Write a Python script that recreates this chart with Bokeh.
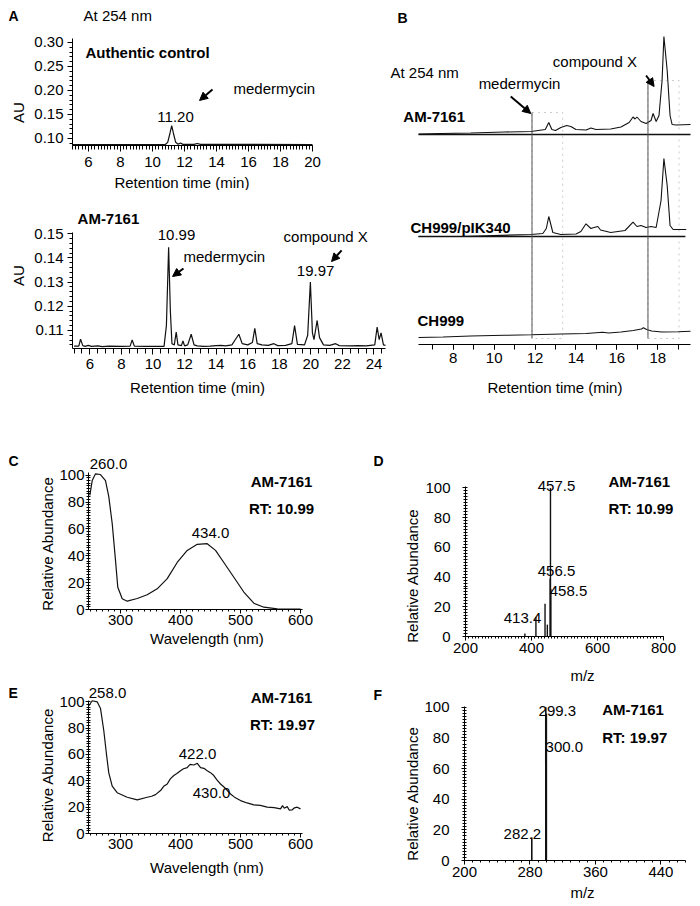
import math
from bokeh.plotting import figure
from bokeh.layouts import column, row
from bokeh.models import Label, Arrow, NormalHead, BoxAnnotation, FixedTicker, NumeralTickFormatter
from bokeh.embed import file_html
from bokeh.resources import INLINE

FONT = "Liberation Sans"
INK = "#111111"

# ---------------- data ----------------
# Panel A (top): authentic control, AU vs retention time (min)
a1_time = [5.0, 10.8, 10.95, 11.1, 11.2, 11.3, 11.45, 11.6, 11.75, 11.9, 12.6, 12.8, 13.0, 20.0]
a1_au = [0.0875, 0.0875, 0.092, 0.112, 0.127, 0.112, 0.092, 0.0880, 0.0905, 0.0878, 0.0876, 0.0895, 0.0876, 0.0875]
a1_xticks = [6, 8, 10, 12, 14, 16, 18, 20]
a1_yticks = [0.10, 0.15, 0.20, 0.25, 0.30]

# Panel A (bottom): AM-7161
a2_time = [5.0, 5.3, 5.41, 5.55, 5.7, 5.9, 6.1, 6.5, 6.8, 7.2, 8.0, 8.55, 8.68, 8.82, 9.5, 10.7,
           10.85, 10.99, 11.1, 11.2, 11.35, 11.47, 11.58, 11.8, 11.9, 12.0, 12.2, 12.42, 12.6, 12.8,
           13.2, 13.6, 14.0, 14.3, 14.6, 15.0, 15.2, 15.44, 15.65, 16.0, 16.3, 16.45, 16.6, 16.9,
           17.3, 17.66, 17.9, 18.4, 18.8, 18.97, 19.15, 19.6, 19.8, 19.97, 20.1, 20.2, 20.4, 20.55,
           20.8, 21.2, 21.57, 21.8, 22.5, 23.0, 23.5, 24.05, 24.2, 24.33, 24.45, 24.6, 24.73]
a2_au = [0.1035, 0.1035, 0.1064, 0.1037, 0.1034, 0.1038, 0.1034, 0.1036, 0.1033, 0.1035, 0.1034,
         0.1035, 0.1060, 0.1035, 0.1034, 0.1034, 0.1120, 0.1444, 0.1180, 0.1045, 0.1040, 0.1093,
         0.1040, 0.1037, 0.1056, 0.1036, 0.1040, 0.1084, 0.1040, 0.1036, 0.1034, 0.1035, 0.1037,
         0.1038, 0.1036, 0.1040, 0.1060, 0.1084, 0.1045, 0.1040, 0.1050, 0.1108, 0.1045, 0.1040,
         0.1038, 0.1045, 0.1037, 0.1038, 0.1045, 0.1120, 0.1042, 0.1040, 0.1080, 0.1300, 0.1090,
         0.1062, 0.1141, 0.1070, 0.1040, 0.1038, 0.1045, 0.1037, 0.1036, 0.1037, 0.1036, 0.1040,
         0.1114, 0.1062, 0.1090, 0.1040, 0.1038]
a2_xticks = [6, 8, 10, 12, 14, 16, 18, 20, 22, 24]
a2_yticks = [0.11, 0.12, 0.13, 0.14, 0.15]

# Panel B: stacked chromatograms (relative signal vs retention time)
b_am_time = [6.3, 7.4, 8.85, 10.5, 11.8, 12.5, 12.67, 12.82, 13.0, 13.26, 13.55, 13.75, 14.0, 14.5,
             14.73, 14.98, 15.7, 16.2, 16.6, 16.79, 16.89, 16.98, 17.18, 17.43, 17.67, 17.77, 17.92,
             18.06, 18.21, 18.3, 18.46, 18.6, 18.7, 18.9, 19.6]
b_am_sig = [0.5, 1, 1.5, 2.5, 3, 5, 12, 5, 4, 7, 9, 8, 5, 4.5, 6.5, 5, 5.5, 7.5, 12, 17.5, 15.5,
            17.5, 13, 11, 14, 21, 13, 19, 54, 98, 64, 19, 10, 9.5, 10]
b_pik_time = [6.3, 8.36, 11.79, 12.38, 12.55, 12.67, 12.87, 13.26, 14.0, 14.24, 14.49, 14.73, 14.88,
              15.07, 15.2, 15.7, 16.4, 16.79, 16.98, 17.18, 17.43, 17.67, 17.92, 18.16, 18.3, 18.46,
              18.6, 18.75, 19.39]
b_pik_sig = [0, 0, 2, 3, 8, 20, 4, 2, 2.5, 5, 12.7, 8, 9, 10, 6.5, 4, 6, 14.3, 10, 11, 9, 10, 9,
             36, 78, 51, 11, 7, 7]
b_ch_time = [6.3, 7.5, 8.85, 10.5, 11.8, 13.3, 14.5, 15.3, 15.6, 16.2, 16.8, 17.2, 17.3, 17.45,
             17.7, 18.2, 19.0, 19.6]
b_ch_sig = [7, 7.5, 8.5, 9.2, 9.7, 10.5, 11, 12.3, 11.5, 12.5, 14, 15.5, 16.7, 15, 13.5, 12.5, 12.8, 13.3]
b_labels = ["AM-7161", "CH999/pIK340", "CH999"]
b_xticks = [8, 10, 12, 14, 16, 18]

# Panel C: UV spectrum RT 10.99
c_wl = [248.9, 252.9, 258.4, 266.7, 275.0, 280.5, 286.2, 291.7, 295.5, 302.9, 311.2, 327.9, 344.5,
        361.2, 377.9, 394.5, 411.2, 427.9, 444.5, 458.4, 472.2, 488.9, 505.5, 522.2, 538.9, 561.2, 600.0]
c_ab = [85, 96, 101, 100.5, 96, 84, 64, 36.6, 16.6, 8, 6.2, 8.2, 11, 15.4, 23, 35, 44, 48.5, 49, 44,
        35, 24, 13, 4.7, 1.7, 0.5, 0.3]

# Panel E: UV spectrum RT 19.97
e_wl = [247.2, 252.9, 261.2, 266.7, 272.2, 276.7, 280.5, 286.2, 294.5, 311.2, 327.9, 344.5, 352.0,
        358.4, 366.7, 372.0, 377.9, 383.0, 388.9, 394.0, 400.0, 405.0, 411.2, 416.0, 422.2, 428.0,
        433.4, 439.0, 444.5, 450.0, 455.5, 461.0, 466.7, 472.0, 477.0, 483.4, 490.0, 500.0, 511.0,
        522.2, 533.0, 544.5, 556.0, 566.7, 570.0, 573.0, 577.9, 581.0, 586.2, 590.0, 594.5, 600.0]
e_ab = [97, 100.8, 100, 95, 78, 60, 46, 36, 31, 27.5, 25.5, 27.5, 28.3, 29.5, 32.6, 35.8, 37.6, 41.5,
        44, 45.5, 47.7, 49.2, 50, 52.5, 52, 53.3, 50, 49.5, 47.7, 46.2, 44, 40.5, 37.6, 35.5, 33.2,
        30, 27.6, 25, 23.2, 21.7, 21.3, 20, 19.6, 18.7, 21.2, 19.2, 20.5, 17.8, 18, 19.5, 20, 18.7]
uv_xticks = [300, 400, 500, 600]
ab_yticks = [0, 20, 40, 60, 80, 100]

# Panel D: MS, RT 10.99
d_mz = [380.0, 413.4, 441.0, 448.0, 456.5, 457.5, 458.5]
d_ab = [2, 13, 22, 8, 39, 100, 32]
d_xticks = [200, 400, 600, 800]

# Panel F: MS, RT 19.97
f_mz = [282.2, 299.3, 300.0]
f_ab = [15, 100, 96]
f_xticks = [200, 280, 360, 440]


# ---------------- helpers ----------------
def make_panel(w, h, xlo, xhi, ylo, yhi, bl, br, bt, bb):
    """Figure whose frame fills the canvas; the data box [xlo,xhi]x[ylo,yhi]
    sits bl/br/bt/bb pixels from the canvas edges; axes drawn at fixed locations."""
    sx = (w - bl - br) / (xhi - xlo)
    sy = (h - bt - bb) / (yhi - ylo)
    xr = (xlo - bl / sx, xhi + br / sx)
    yr = (ylo - bb / sy, yhi + bt / sy)
    p = figure(width=w, height=h, x_range=xr, y_range=yr, min_border=0,
               min_border_left=0, min_border_right=0, min_border_top=0, min_border_bottom=0,
               output_backend="svg", toolbar_location=None)
    p.grid.visible = False
    p.outline_line_color = None
    p.background_fill_color = "white"
    p.border_fill_color = "white"
    p.xaxis.fixed_location = ylo
    p.xaxis.bounds = (xlo, xhi)
    p.yaxis.fixed_location = xlo
    p.yaxis.bounds = (ylo, yhi)
    return p


def style_axis(ax, ticks, minor, major_out=5, minor_out=3, minor_in=0, standoff=4, fmt=None):
    ax.ticker = FixedTicker(ticks=ticks, minor_ticks=minor)
    ax.axis_line_color = "black"
    ax.axis_line_width = 1
    ax.major_tick_line_color = "black"
    ax.minor_tick_line_color = "black"
    ax.major_tick_out = major_out
    ax.major_tick_in = 0
    ax.minor_tick_out = minor_out
    ax.minor_tick_in = minor_in
    ax.major_label_text_font = FONT
    ax.major_label_text_font_size = "15px"
    ax.major_label_text_color = "black"
    ax.major_label_standoff = standoff
    if fmt:
        ax.formatter = NumeralTickFormatter(format=fmt)


def lab(p, x, y, text, align="left", bold=False, size="15px", angle=0.0):
    p.add_layout(Label(x=x, y=y, text=text, text_align=align, text_baseline="middle",
                       text_font=FONT, text_font_size=size,
                       text_font_style="bold" if bold else "normal",
                       text_color="black", angle=angle))


def arrow(p, x0, y0, x1, y1):
    p.add_layout(Arrow(end=NormalHead(size=8, fill_color="black", line_color="black"),
                       x_start=x0, y_start=y0, x_end=x1, y_end=y1,
                       line_color="black", line_width=2))


def rng(a, b, step):
    n = int(round((b - a) / step))
    return [round(a + i * step, 6) for i in range(n + 1)]


VERT = math.pi / 2

# ---------------- Panel A top ----------------
pa1 = make_panel(380, 182, 5.0, 20.0, 0.0854, 0.3083, 64, 76, 30, 45)
pa1.line(a1_time, a1_au, line_color=INK, line_width=1.2)
style_axis(pa1.xaxis[0], a1_xticks, rng(5.0, 20.0, 0.2), major_out=6, minor_out=4, standoff=5)
style_axis(pa1.yaxis[0], a1_yticks, rng(0.09, 0.30, 0.01), major_out=5, minor_out=3, standoff=4, fmt="0.00")
lab(pa1, 1.0, 0.3562, "A", bold=True, size="14px")
lab(pa1, 5.69, 0.3562, "At 254 nm")
lab(pa1, 5.81, 0.2791, "Authentic control", bold=True)
lab(pa1, 15.06, 0.2042, "medermycin")
lab(pa1, 11.44, 0.1458, "11.20", align="center")
arrow(pa1, 13.75, 0.2021, 12.94, 0.1792)
lab(pa1, 11.84, 0.0083, "Retention time (min)", align="center")
lab(pa1, 1.6, 0.1542, "AU", align="center", angle=VERT)

# ---------------- Panel A bottom ----------------
pa2 = make_panel(380, 210, 4.9, 24.73, 0.1025, 0.1505, 64, 3, 42, 52)
pa2.line(a2_time, a2_au, line_color=INK, line_width=1.2)
style_axis(pa2.xaxis[0], a2_xticks, rng(5.0, 24.5, 0.5), major_out=6, minor_out=5, standoff=4)
style_axis(pa2.yaxis[0], a2_yticks, rng(0.104, 0.150, 0.002), major_out=5, minor_out=3, standoff=4, fmt="0.00")
lab(pa2, 5.22, 0.1563, "AM-7161", bold=True)
lab(pa2, 11.49, 0.1493, "10.99", align="center")
lab(pa2, 11.93, 0.1406, "medermycin")
arrow(pa2, 11.93, 0.1356, 11.24, 0.1323)
lab(pa2, 18.27, 0.1488, "compound X")
lab(pa2, 20.3, 0.1344, "19.97", align="center")
arrow(pa2, 21.95, 0.1431, 21.31, 0.1385)
lab(pa2, 12.82, 0.0865, "Retention time (min)", align="center")
lab(pa2, 1.45, 0.1327, "AU", align="center", angle=VERT)

# ---------------- Panel B ----------------
b_x0, b_x1 = 6.3, 19.6
pb = make_panel(304, 392, b_x0, b_x1, 0, 314, 30, 2, 22, 56)
pb.yaxis.visible = False
offsets = [210, 108, 0]
b_times = [b_am_time, b_pik_time, b_ch_time]
b_sigs = [b_am_sig, b_pik_sig, b_ch_sig]
for t, s, off in zip(b_times, b_sigs, offsets):
    pb.line(t, [v + off for v in s], line_color=INK, line_width=1.1)
for off in offsets[:2]:
    pb.line([b_x0, b_x1 - (0.25 if off == 108 else 0)], [off, off], line_color=INK, line_width=1.3)
# highlight boxes
for left, right, top in [(11.85, 13.35, 232), (17.52, 19.04, 264)]:
    pb.add_layout(BoxAnnotation(left=left, right=right, bottom=6, top=top, fill_alpha=0,
                                line_color="#555555", line_dash="dotted", line_width=1))
    pb.segment(x0=[left], y0=[6], x1=[left], y1=[top], line_color="#555555", line_width=1)
style_axis(pb.xaxis[0], b_xticks, rng(7, 19, 1), major_out=5, minor_out=5, standoff=3)
lab(pb, 5.27, 327, "B", bold=True, size="14px")
lab(pb, 4.93, 272, "At 254 nm")
lab(pb, 12.87, 283, "compound X")
lab(pb, 9.24, 261, "medermycin")
arrow(pb, 10.81, 248, 11.79, 231)
arrow(pb, 17.43, 269, 17.82, 258)
lab(pb, 5.56, 228, b_labels[0], bold=True)
lab(pb, 5.91, 117, b_labels[1], bold=True)
lab(pb, 6.25, 24, b_labels[2], bold=True)
lab(pb, 12.97, -43, "Retention time (min)", align="center")

# ---------------- Panel C ----------------
pc = make_panel(380, 250, 246.7, 603.3, 0, 102, 80, 86, 72, 41)
pc.line(c_wl, c_ab, line_color=INK, line_width=1.2)
style_axis(pc.xaxis[0], uv_xticks, rng(250, 600, 10), major_out=4, minor_out=2, standoff=1)
style_axis(pc.yaxis[0], ab_yticks, rng(0, 100, 2), major_out=3, minor_out=2, minor_in=2, standoff=1)
lab(pc, 113.4, 110.2, "C", bold=True, size="14px")
lab(pc, 280.0, 108.0, "260.0", align="center")
lab(pc, 568.4, 95.3, "AM-7161", align="center", bold=True)
lab(pc, 568.4, 75.2, "RT: 10.99", align="center", bold=True)
lab(pc, 450.0, 57.3, "434.0", align="center")
lab(pc, 721.7, 110.2, "D", bold=True, size="14px")
lab(pc, 447.5, -21.6, "Wavelength  (nm)", align="center")
lab(pc, 179.2, 49.1, "Relative Abundance", align="center", angle=VERT)

# ---------------- Panel E ----------------
pe = make_panel(380, 248, 246.7, 603.3, 0, 101, 80, 86, 50, 65)
pe.line(e_wl, e_ab, line_color=INK, line_width=1.2)
style_axis(pe.xaxis[0], uv_xticks, rng(250, 600, 10), major_out=4, minor_out=2, standoff=1)
style_axis(pe.yaxis[0], ab_yticks, rng(0, 100, 2), major_out=3, minor_out=2, minor_in=2, standoff=1)
lab(pe, 113.4, 107.0, "E", bold=True, size="14px")
lab(pe, 278.4, 107.0, "258.0", align="center")
lab(pe, 568.4, 103.3, "AM-7161", align="center", bold=True)
lab(pe, 570.0, 82.8, "RT: 19.97", align="center", bold=True)
lab(pe, 428.4, 60.7, "422.0", align="center")
lab(pe, 451.7, 30.4, "430.0", align="center")
lab(pe, 721.7, 105.5, "F", bold=True, size="14px")
lab(pe, 447.5, -25.6, "Wavelength  (nm)", align="center")
lab(pe, 179.2, 44.4, "Relative Abundance", align="center", angle=VERT)

# ---------------- Panel D ----------------
pd_ = make_panel(304, 284, 200, 800, 0, 101, 77, 29, 86, 48)
pd_.segment(x0=d_mz, y0=[0] * len(d_mz), x1=d_mz, y1=d_ab, line_color=INK, line_width=1.4)
style_axis(pd_.xaxis[0], d_xticks, rng(200, 800, 10), major_out=4, minor_out=2, standoff=2)
style_axis(pd_.yaxis[0], ab_yticks, rng(0, 100, 2), major_out=3, minor_out=2, minor_in=2, standoff=12)
lab(pd_, 633, 104.7, "AM-7161", bold=True)
lab(pd_, 633, 86.5, "RT: 10.99", bold=True)
lab(pd_, 475.8, 101.4, "457.5", align="center")
lab(pd_, 475.8, 43.9, "456.5", align="center")
lab(pd_, 512.0, 30.4, "458.5", align="center")
lab(pd_, 372.7, 12.2, "413.4", align="center")
lab(pd_, 554.5, -26.3, "m/z", align="center")
lab(pd_, 39.4, 41.0, "Relative Abundance", align="center", angle=VERT)

# ---------------- Panel F ----------------
pf = make_panel(304, 218, 200, 470, 0, 100.5, 76, 7, 22, 42)
pf.segment(x0=f_mz, y0=[0] * len(f_mz), x1=f_mz, y1=f_ab, line_color=INK, line_width=1.6)
style_axis(pf.xaxis[0], f_xticks, rng(200, 470, 10), major_out=4, minor_out=2, standoff=2)
style_axis(pf.yaxis[0], ab_yticks, rng(0, 100, 2), major_out=3, minor_out=2, minor_in=2, standoff=12)
lab(pf, 368.3, 98.7, "AM-7161", bold=True)
lab(pf, 368.3, 80.4, "RT: 19.97", bold=True)
lab(pf, 313.4, 97.4, "299.3", align="center")
lab(pf, 322.0, 73.9, "300.0", align="center")
lab(pf, 270.7, 17.6, "282.2", align="center")
lab(pf, 344.2, -20.9, "m/z", align="center")
lab(pf, 136.1, 43.7, "Relative Abundance", align="center", angle=VERT)

layout = row(column(pa1, pa2, pc, pe), column(pb, pd_, pf), margin=(8, 0, 0, 8))
open("out.html", "w").write(file_html(layout, INLINE))
